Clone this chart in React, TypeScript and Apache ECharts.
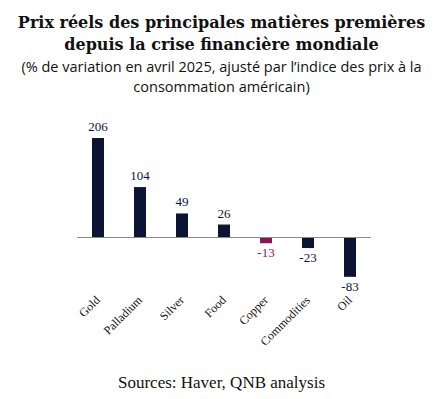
import React, { useEffect, useRef } from "react";
import * as echarts from "echarts";

const categories = ["Gold", "Palladium", "Silver", "Food", "Copper", "Commodities", "Oil"];
const values = [206, 104, 49, 26, -13, -23, -83];
const highlight = "Copper";

const NAVY = "#0b1435";
const PLUM = "#8c1455";

export default function App() {
  const ref = useRef<HTMLDivElement>(null);
  useEffect(() => {
    document.body.style.margin = "0";
    const chart = echarts.init(ref.current!, undefined, { renderer: "svg" });
    const serif = "Liberation Serif";
    chart.setOption({
      animation: false,
      backgroundColor: "#ffffff",
      title: [
        { text: "Prix réels des principales matières premières", left: "center", top: 9,
          textStyle: { fontFamily: "DejaVu Serif", fontWeight: "bold", fontSize: 16, color: "#111" } },
        { text: "depuis la crise financière mondiale", left: "center", top: 31,
          textStyle: { fontFamily: "DejaVu Serif", fontWeight: "bold", fontSize: 16, color: "#111" } },
        { text: "(% de variation en avril 2025, ajusté par l’indice des prix à la", left: "center", top: 54,
          textStyle: { fontFamily: "Open Sans", fontWeight: "normal", fontSize: 14.5, color: "#111" } },
        { text: "consommation américain)", left: "center", top: 74,
          textStyle: { fontFamily: "Open Sans", fontWeight: "normal", fontSize: 14.5, color: "#111" } },
        { text: "Sources: Haver, QNB analysis", left: "center", top: 369,
          textStyle: { fontFamily: serif, fontWeight: "normal", fontSize: 17, color: "#111" } },
      ],
      grid: { left: 77, right: 72, top: 117, height: 168 },
      xAxis: {
        type: "category",
        data: categories,
        axisLine: { show: false },
        axisTick: { show: false },
        axisLabel: { rotate: 45, fontFamily: serif, fontSize: 12, color: "#111", margin: 13, interval: 0 },
      },
      yAxis: {
        type: "value",
        min: -100,
        max: 250,
        show: false,
        splitLine: { show: false },
      },
      series: [
        {
          type: "bar",
          barWidth: 12,
          data: values.map((v, i) => {
            const c = categories[i] === highlight ? PLUM : NAVY;
            return {
              value: v,
              itemStyle: { color: c },
              label: {
                show: true,
                position: v >= 0 ? "top" : "bottom",
                distance: v >= 0 ? 5 : 3,
                color: c,
                fontFamily: serif,
                fontSize: 13,
              },
            };
          }),
          markLine: {
            silent: true,
            symbol: "none",
            label: { show: false },
            lineStyle: { color: "#888", type: "solid", width: 1 },
            data: [{ yAxis: 0 }],
          },
        },
      ],
    });
    return () => chart.dispose();
  }, []);
  return <div ref={ref} style={{ width: 443, height: 399 }} />;
}
